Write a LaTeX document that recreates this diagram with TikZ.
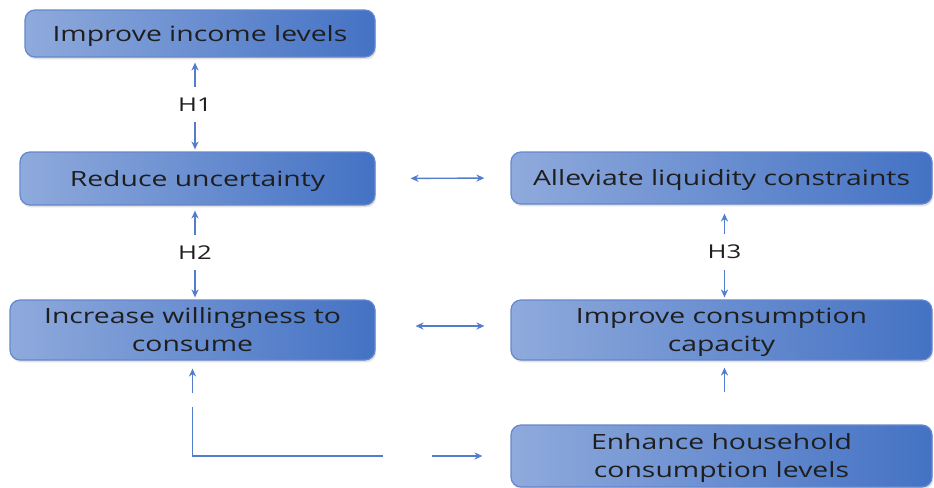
\documentclass[tikz,border=0pt]{standalone}
\usepackage{fontspec}
\setmainfont{Open Sans}[FakeStretch=1.35]
\usetikzlibrary{arrows.meta, positioning, calc, shadows}
\definecolor{boxlight}{RGB}{143,170,220}
\definecolor{boxmid}{RGB}{122,154,216}
\definecolor{boxdark}{RGB}{68,114,196}
\definecolor{boxline}{RGB}{100,135,205}
\definecolor{linkblue}{RGB}{84,124,204}
\definecolor{inktext}{RGB}{30,30,30}

\begin{document}
\begin{tikzpicture}[
  x=0.5pt, y=-0.5pt,
  stage/.style={draw=boxline, line width=0.6pt, rounded corners=5pt,
                left color=boxlight, middle color=boxmid, right color=boxdark,
                drop shadow={opacity=0.22, shadow xshift=0.6pt, shadow yshift=-1.2pt},
                font=\fontsize{10.5}{14}\selectfont, text=inktext, align=center,
                text depth=0pt},
  link/.style={draw=linkblue, line width=0.7pt},
  biarrow/.style={link, {Stealth[length=4pt,width=3.6pt]}-{Stealth[length=4pt,width=3.6pt]}},
  uparrow/.style={link, -{Stealth[length=4pt,width=3.6pt]}},
  hyp/.style={fill=white, inner xsep=2pt, inner ysep=5.5pt,
              font=\fontsize{9.5}{10}\selectfont, text=inktext}
]
\useasboundingbox (0,0) rectangle (934,488);

% Left column
\node[stage, minimum width=175pt, minimum height=23.5pt] (income) at (200,33.5) {Improve income levels};
\node[stage, minimum width=177.5pt, minimum height=26.5pt] (uncert) at (197.5,178.5) {Reduce uncertainty};
\node[stage, minimum width=182.5pt, minimum height=30pt] (willing) at (192.5,330) {Increase willingness to\\consume};

% Right column
\node[stage, minimum width=210.5pt, minimum height=26pt] (liquid) at (721.5,178) {Alleviate liquidity constraints};
\node[stage, minimum width=210.5pt, minimum height=30pt] (capacity) at (721.5,330) {Improve consumption\\capacity};
\node[stage, minimum width=210.5pt, minimum height=31pt] (household) at (721.5,456) {Enhance household\\consumption levels};

% Hypotheses
\draw[biarrow, shorten <=2.5pt, shorten >=1pt] ([xshift=-2.5pt]income.south) -- node[hyp] {H1} ([xshift=-1.25pt]uncert.north);
\draw[biarrow, shorten <=2.5pt, shorten >=1pt] ([xshift=-1.25pt]uncert.south) -- node[hyp] {H2} ([xshift=1.25pt]willing.north);
\draw[biarrow, shorten <=4.5pt, shorten >=1pt] ([xshift=1.5pt]liquid.south) -- node[hyp] {H3} ([xshift=1.5pt]capacity.north);

% Links between columns
\draw[biarrow, shorten <=17.5pt, shorten >=13pt] (uncert.east) -- (liquid.west);
\draw[biarrow, shorten <=20pt, shorten >=13pt] ([yshift=2pt]willing.east) -- ([yshift=2pt]capacity.west);
\draw[uparrow, shorten <=16pt, shorten >=3.5pt] ([xshift=1.5pt]household.north) -- ([xshift=1.5pt]capacity.south);

% Feedback from household consumption
\coordinate (turn) at (willing.south |- household.west);
\draw[link] ($(turn)+(190,0)$) -- (turn) -- ($(turn)+(0,-49)$);
\draw[uparrow, shorten >=4pt] ($(turn)+(0,-63)$) -- (willing.south);
\draw[uparrow, shorten >=14pt] ($(turn)+(239,0)$) -- (household.west);

\end{tikzpicture}
\end{document}
